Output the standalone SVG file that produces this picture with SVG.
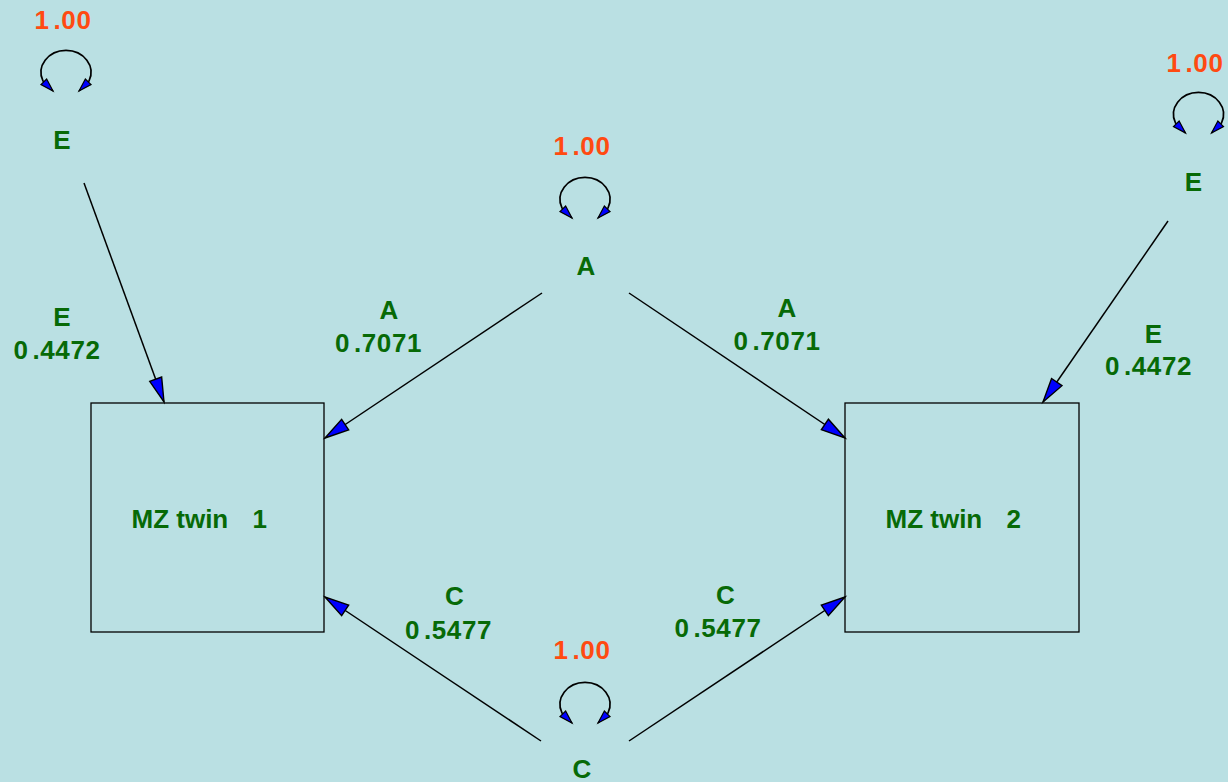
<svg xmlns="http://www.w3.org/2000/svg" width="1228" height="782" viewBox="0 0 1228 782">
<style>
.bg{fill:#BAE0E3}
.box{fill:none;stroke:#000;stroke-width:1.3}
.edge{fill:none;stroke:#000;stroke-width:1.5}
.loop{fill:none;stroke:#000;stroke-width:1.7}
text{font-family:"Liberation Sans",Arial,sans-serif;font-weight:bold;font-size:26px;text-anchor:middle}
.g{fill:#076A07}
.r{fill:#FF4A12}
.n{letter-spacing:0.6px}
.lbl{text-anchor:start}
</style>
<defs>
<marker id="ah" markerUnits="userSpaceOnUse" markerWidth="30" markerHeight="20" refX="0" refY="0" orient="auto" viewBox="-24 -8 26 16" overflow="visible">
<path d="M0,0 L-21,-5.5 L-21,5.5 Z" fill="#0000FF" stroke="#000" stroke-width="1.2" stroke-linejoin="miter"/>
</marker>
<marker id="ahs" markerUnits="userSpaceOnUse" markerWidth="20" markerHeight="12" refX="0" refY="0" orient="auto-start-reverse" viewBox="-16 -6 18 12" overflow="visible">
<path d="M0,0 L-13,-4 L-13,4 Z" fill="#0000FF" stroke="#000" stroke-width="1.2"/>
</marker>
<path id="lp" d="M-13,0 l-10,-10 A25,22 0 1 1 23,-10 l-10,10" class="loop" marker-start="url(#ahs)" marker-end="url(#ahs)"/>
</defs>
<rect class="bg" x="0" y="0" width="1228" height="782"/>

<g id="connectors">
<line class="edge" x1="84" y1="183" x2="164" y2="402" marker-end="url(#ah)"/>
<line class="edge" x1="542" y1="293" x2="325" y2="438" marker-end="url(#ah)"/>
<line class="edge" x1="629" y1="293" x2="845" y2="438" marker-end="url(#ah)"/>
<line class="edge" x1="1168" y1="221" x2="1043" y2="402" marker-end="url(#ah)"/>
<line class="edge" x1="541" y1="741" x2="325" y2="597" marker-end="url(#ah)"/>
<line class="edge" x1="629" y1="741" x2="845" y2="597" marker-end="url(#ah)"/>
<use href="#lp" x="66" y="91"/>
<use href="#lp" x="585" y="218"/>
<use href="#lp" x="585" y="723"/>
<use href="#lp" x="1198.5" y="133"/>
</g>

<g id="twin1">
<rect class="box" x="91" y="403" width="233" height="229"/>
<text class="g lbl" x="131.5" y="528">MZ twin <tspan dx="17">1</tspan></text>
</g>
<g id="twin2">
<rect class="box" x="845" y="403" width="234" height="229"/>
<text class="g lbl" x="885.5" y="528">MZ twin <tspan dx="17">2</tspan></text>
</g>

<g id="E1">
<text class="r n" x="63" y="29">1<tspan dx="4">.00</tspan></text>
<text class="g" x="62" y="149">E</text>
</g>
<g id="A">
<text class="r n" x="582" y="155">1<tspan dx="4">.00</tspan></text>
<text class="g" x="586" y="275">A</text>
</g>
<g id="E2">
<text class="r n" x="1195" y="72">1<tspan dx="4">.00</tspan></text>
<text class="g" x="1193.5" y="191">E</text>
</g>
<g id="C">
<text class="r n" x="582" y="659">1<tspan dx="4">.00</tspan></text>
<text class="g" x="582" y="778">C</text>
</g>

<g id="edge-labels">
<text class="g" x="62" y="326">E</text>
<text class="g n" x="57" y="359">0<tspan dx="4">.4472</tspan></text>
<text class="g" x="389" y="319">A</text>
<text class="g n" x="378.5" y="352">0<tspan dx="4">.7071</tspan></text>
<text class="g" x="787" y="317">A</text>
<text class="g n" x="777" y="350">0<tspan dx="4">.7071</tspan></text>
<text class="g" x="1153.5" y="343">E</text>
<text class="g n" x="1148.5" y="375">0<tspan dx="4">.4472</tspan></text>
<text class="g" x="454.5" y="605">C</text>
<text class="g n" x="448.5" y="639">0<tspan dx="4">.5477</tspan></text>
<text class="g" x="725.5" y="604">C</text>
<text class="g n" x="718" y="637">0<tspan dx="4">.5477</tspan></text>
</g>
</svg>
